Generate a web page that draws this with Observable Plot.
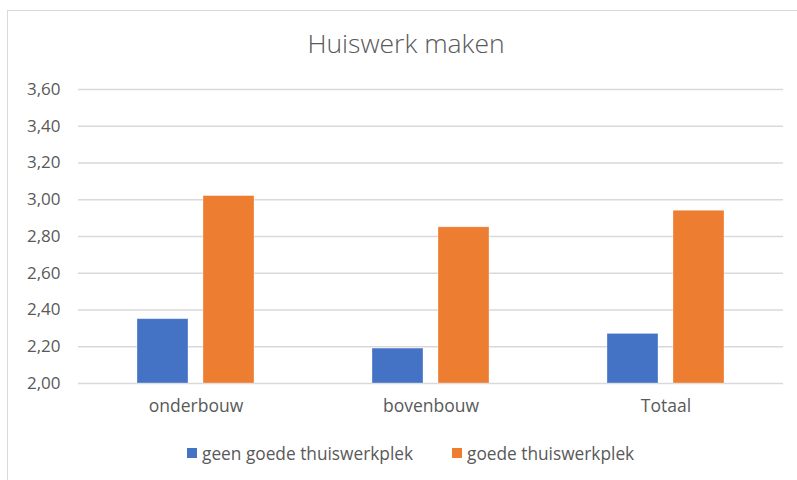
<!DOCTYPE html>
<html>
<head>
<meta charset="utf-8">
<script src="https://cdn.jsdelivr.net/npm/d3@7"></script>
<script src="https://cdn.jsdelivr.net/npm/@observablehq/plot@0.6"></script>
<style>
  html, body { margin: 0; padding: 0; background: #fff; }
  body { width: 797px; height: 480px; overflow: hidden; position: relative; font-family: "Open Sans", sans-serif; color: #595959; }
  #frame { position: absolute; left: 7px; top: 10px; width: 820px; height: 500px; border: 1.5px solid #d9d9d9; box-sizing: border-box; }
  #title { position: absolute; top: 25px; left: 0; width: 812px; text-align: center; font-size: 26.5px; font-weight: 300; color: #595959; }
  #chart { position: absolute; left: 0; top: 70px; }
  #legend { position: absolute; top: 441px; left: 0; width: 797px; height: 24px; font-size: 17.3px; color: #595959; }
  .item { position: absolute; top: 0; display: flex; align-items: center; height: 24px; }
  .sw { width: 10px; height: 10px; margin-right: 5px; }
</style>
</head>
<body>
<div id="frame"></div>
<div id="title">Huiswerk maken</div>
<div id="chart"></div>
<div id="legend"></div>
<script>
const categories = ["onderbouw", "bovenbouw", "Totaal"];
const series = ["geen goede thuiswerkplek", "goede thuiswerkplek"];
const geenGoede = [2.35, 2.19, 2.27];
const goede = [3.02, 2.85, 2.94];
const yTicks = [2.0, 2.2, 2.4, 2.6, 2.8, 3.0, 3.2, 3.4, 3.6];
const colors = ["#4472C4", "#ED7D31"];

const data = [];
categories.forEach((c, i) => {
  data.push({cat: c, s: series[0], v: geenGoede[i]});
  data.push({cat: c, s: series[1], v: goede[i]});
});

const fmt = d => d.toFixed(2).replace(".", ",");

const plot = Plot.plot({
  width: 797,
  height: 350,
  marginTop: 19,
  marginBottom: 37,
  marginLeft: 77,
  marginRight: 14,
  style: { fontFamily: "Open Sans, sans-serif", fontSize: "16px", color: "#595959", background: "transparent" },
  fx: { domain: categories, padding: 0, label: null },
  x: { domain: series, paddingInner: 0.224, paddingOuter: 0.868, axis: null },
  y: { domain: [2, 3.6], ticks: yTicks, label: null },
  color: { domain: series, range: colors },
  marks: [
    Plot.gridY(yTicks, { stroke: "#d9d9d9", strokeOpacity: 1, strokeWidth: 1.3 }),
    Plot.axisY(yTicks, { tickSize: 0, tickPadding: 18, tickFormat: fmt, label: null, fontSize: 17, fill: "#595959" }),
    Plot.axisFx({ anchor: "bottom", tickSize: 0, tickPadding: 16, label: null, fontSize: 17.5, fill: "#595959" }),
    Plot.barY(data, { fx: "cat", x: "s", y1: 2, y2: "v", fill: "s", stroke: "#ffffff", strokeOpacity: 0.4, strokeWidth: 0.8 })
  ]
});
document.getElementById("chart").appendChild(plot);

const legend = document.getElementById("legend");
const lx = [187, 452];
series.forEach((s, i) => {
  const it = document.createElement("div");
  it.className = "item";
  it.style.left = lx[i] + "px";
  const sw = document.createElement("div");
  sw.className = "sw";
  sw.style.background = colors[i];
  const t = document.createElement("span");
  t.textContent = s;
  it.appendChild(sw);
  it.appendChild(t);
  legend.appendChild(it);
});
</script>
</body>
</html>
